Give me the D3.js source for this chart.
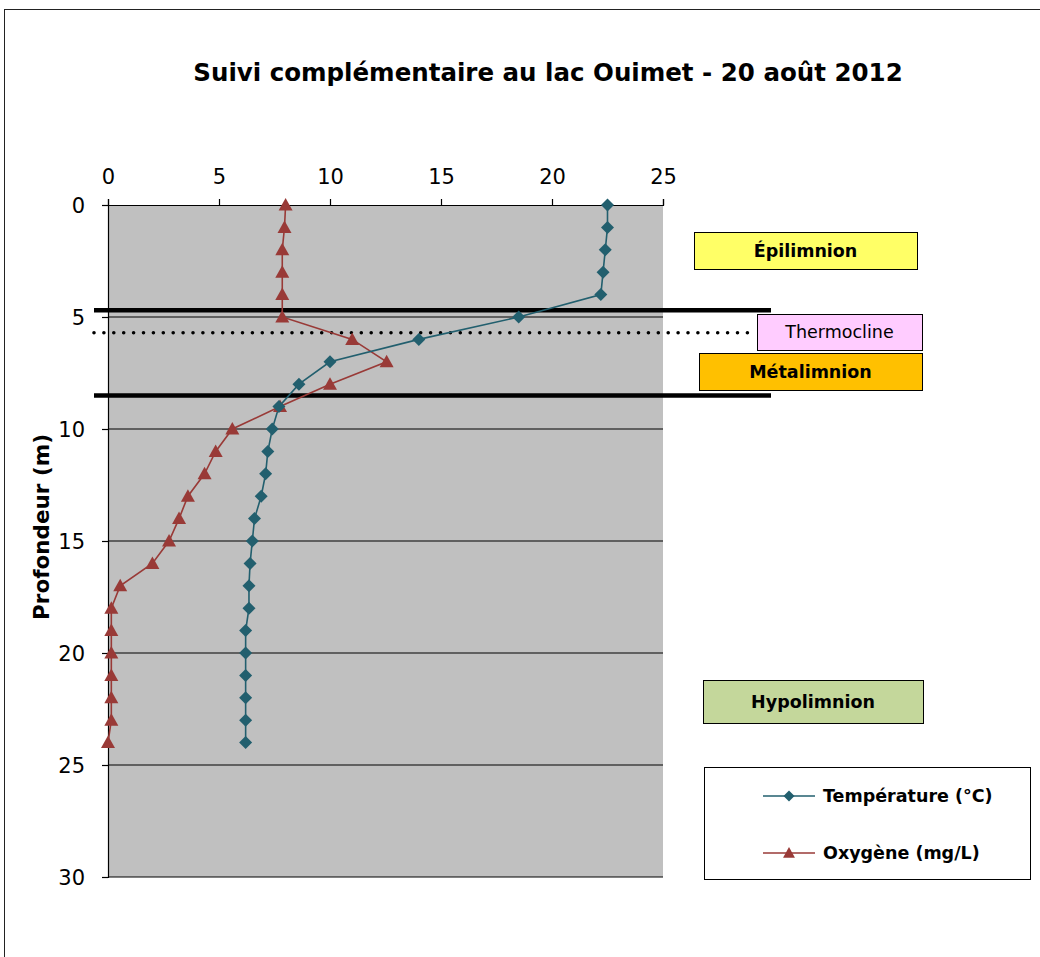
<!DOCTYPE html>
<html><head><meta charset="utf-8">
<script src="https://cdn.jsdelivr.net/npm/d3@7"></script>
<style>body{margin:0;background:#fff}svg{display:block}</style>
</head><body>
<script>
const depths = [0,1,2,3,4,5,6,7,8,9,10,11,12,13,14,15,16,17,18,19,20,21,22,23,24];
const temperature = [22.5,22.5,22.4,22.3,22.2,18.5,14.0,10.0,8.6,7.7,7.4,7.2,7.1,6.9,6.6,6.5,6.4,6.35,6.35,6.2,6.2,6.2,6.2,6.2,6.2];
const oxygen = [8.0,7.95,7.85,7.85,7.85,7.85,11.0,12.55,10.0,7.75,5.6,4.85,4.35,3.6,3.2,2.75,2.0,0.55,0.15,0.15,0.15,0.15,0.15,0.15,0.0];
const xTicks = [0,5,10,15,20,25];
const yTicks = [0,5,10,15,20,25,30];
const boundaryDepths = [4.7, 8.5];
const thermoclineDepth = [5.7];
const seriesNames = ["Température (°C)", "Oxygène (mg/L)"];
const zoneNames = ["Épilimnion","Thermocline","Métalimnion","Hypolimnion"];

const W = 1040, H = 957;
const svg = d3.select("body").append("svg").attr("width", W).attr("height", H);
const FONT = "DejaVu Sans";
const tempColor = "#225f6e", oxyColor = "#993a37";

// outer frame
svg.append("rect").attr("x",4.5).attr("y",9.5).attr("width",1100).attr("height",1000)
  .attr("fill","none").attr("stroke","#222").attr("stroke-width",1);

const x = d3.scaleLinear().domain([0,25]).range([108,663]);
const y = d3.scaleLinear().domain([0,30]).range([205,877]);

// title
svg.append("text").attr("x",548).attr("y",81).attr("text-anchor","middle")
  .attr("font-family",FONT).attr("font-weight","bold").attr("font-size",24.5).attr("fill","#000")
  .text("Suivi complémentaire au lac Ouimet - 20 août 2012");

// plot background
svg.append("rect").attr("x",x(0)).attr("y",y(0)).attr("width",x(25)-x(0)).attr("height",y(30)-y(0)).attr("fill","#c0c0c0");

// gridlines
svg.append("g").selectAll("line").data(yTicks.filter(d=>d>0)).join("line")
  .attr("x1",x(0)).attr("x2",x(25)).attr("y1",d=>y(d)).attr("y2",d=>y(d))
  .attr("stroke","#000").attr("stroke-width",1.2);

// axes
const xAxis = svg.append("g").attr("transform",`translate(0,${y(0)})`)
  .call(d3.axisTop(x).tickValues(xTicks).tickSize(6).tickPadding(15));
const yAxis = svg.append("g").attr("transform",`translate(${x(0)},0)`)
  .call(d3.axisLeft(y).tickValues(yTicks).tickSize(6).tickPadding(17));
[xAxis,yAxis].forEach(g=>{
  g.select(".domain").attr("stroke","#000").attr("stroke-width",1.2);
  g.selectAll(".tick line").attr("stroke","#000").attr("stroke-width",1.2);
  g.selectAll(".tick text").attr("font-family",FONT).attr("font-size",21).attr("fill","#000");
});
xAxis.selectAll(".tick text").attr("dy","0");
yAxis.selectAll(".tick text").attr("dy","0.36em");

// y axis title
svg.append("text").attr("transform","translate(49,527) rotate(-90)").attr("text-anchor","middle")
  .attr("font-family",FONT).attr("font-weight","bold").attr("font-size",21.5).attr("fill","#000")
  .text("Profondeur (m)");

// layer boundary lines
svg.append("g").selectAll("line").data(boundaryDepths).join("line")
  .attr("x1",94).attr("x2",771).attr("y1",d=>y(d)).attr("y2",d=>y(d))
  .attr("stroke","#000").attr("stroke-width",4.5);
svg.append("g").selectAll("line").data(thermoclineDepth).join("line")
  .attr("x1",94).attr("x2",757).attr("y1",d=>y(d)).attr("y2",d=>y(d))
  .attr("stroke","#000").attr("stroke-width",3.6).attr("stroke-linecap","round")
  .attr("stroke-dasharray","0 9.9");

// series
const tempData = depths.map((d,i)=>({d, v:temperature[i]}));
const oxyData = depths.map((d,i)=>({d, v:oxygen[i]}));
const line = d3.line().x(p=>x(p.v)).y(p=>y(p.d));

svg.append("path").datum(oxyData).attr("d",line).attr("fill","none").attr("stroke",oxyColor).attr("stroke-width",1.6);
svg.append("path").datum(tempData).attr("d",line).attr("fill","none").attr("stroke",tempColor).attr("stroke-width",1.6);

const diamond = "M0,-6.5L6.5,0L0,6.5L-6.5,0Z";
const triangle = "M0,-7L7,5.5L-7,5.5Z";
svg.append("g").selectAll("path").data(oxyData).join("path")
  .attr("transform",p=>`translate(${x(p.v)},${y(p.d)})`).attr("d",triangle).attr("fill",oxyColor);
svg.append("g").selectAll("path").data(tempData).join("path")
  .attr("transform",p=>`translate(${x(p.v)},${y(p.d)})`).attr("d",diamond).attr("fill",tempColor);

// zone boxes
const boxes = [
  {name:zoneNames[0], x:694, y:232, w:223, h:37, fill:"#ffff66", bold:true},
  {name:zoneNames[1], x:757, y:314, w:165, h:36, fill:"#ffccff", bold:false},
  {name:zoneNames[2], x:699, y:353, w:223, h:37, fill:"#ffc000", bold:true},
  {name:zoneNames[3], x:703, y:680, w:220, h:43, fill:"#c4d79b", bold:true}
];
const bg = svg.append("g").selectAll("g").data(boxes).join("g");
bg.append("rect").attr("x",b=>b.x+0.5).attr("y",b=>b.y+0.5).attr("width",b=>b.w).attr("height",b=>b.h)
  .attr("fill",b=>b.fill).attr("stroke","#000").attr("stroke-width",1);
bg.append("text").attr("x",b=>b.x+b.w/2).attr("y",b=>b.y+b.h/2).attr("dy","0.36em")
  .attr("text-anchor","middle").attr("font-family",FONT).attr("font-size",b=>b.bold?17.5:17.5)
  .attr("font-weight",b=>b.bold?"bold":"normal").attr("fill","#000").text(b=>b.name);

// legend
svg.append("rect").attr("x",704.5).attr("y",767.5).attr("width",326).attr("height",112)
  .attr("fill","#fff").attr("stroke","#000").attr("stroke-width",1);
const leg = [
  {name:seriesNames[0], color:tempColor, shape:diamond, y:796},
  {name:seriesNames[1], color:oxyColor, shape:triangle, y:853}
];
const lg = svg.append("g").selectAll("g").data(leg).join("g");
lg.append("line").attr("x1",763).attr("x2",815).attr("y1",l=>l.y).attr("y2",l=>l.y).attr("stroke",l=>l.color).attr("stroke-width",1.6);
lg.append("path").attr("transform",l=>`translate(789,${l.y}) scale(0.85)`).attr("d",l=>l.shape).attr("fill",l=>l.color);
lg.append("text").attr("x",823).attr("y",l=>l.y).attr("dy","0.36em").attr("font-family",FONT)
  .attr("font-weight","bold").attr("font-size",17.5).attr("fill","#000").text(l=>l.name);
</script>
</body></html>
